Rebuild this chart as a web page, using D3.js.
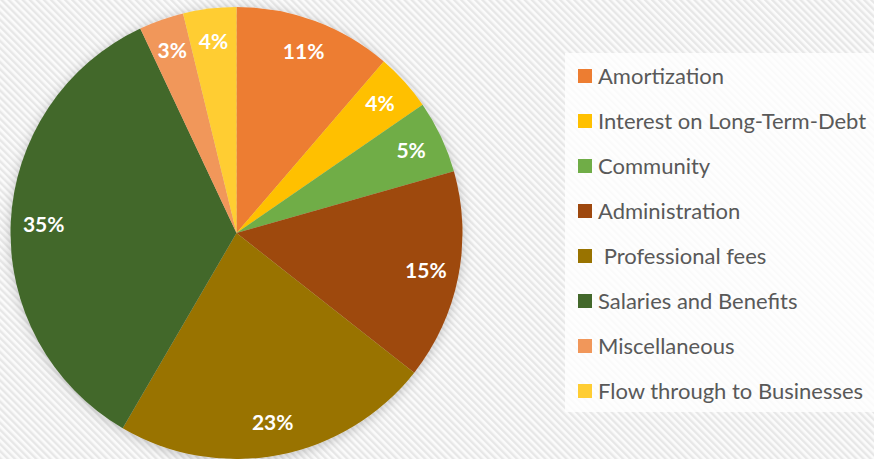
<!DOCTYPE html>
<html>
<head>
<meta charset="utf-8">
<script src="https://cdn.jsdelivr.net/npm/d3@7"></script>
<style>
  html, body { margin: 0; padding: 0; background: #fff; }
  svg { display: block; }
</style>
</head>
<body>
<svg id="chart" width="874" height="459"></svg>
<script>
const categories = ["Amortization", "Interest on Long-Term-Debt", "Community", "Administration",
  " Professional fees", "Salaries and Benefits", "Miscellaneous", "Flow through to Businesses"];
const values = [11.3, 4.1, 5.2, 15.0, 22.8, 34.6, 3.2, 3.8];
const colors = ["#ED7D31", "#FFC000", "#70AD47", "#9E480E", "#997300", "#43682B", "#F1975A", "#FFCD33"];

const svg = d3.select("#chart");
const W = 874, H = 459;
const defs = svg.append("defs");

const pat = defs.append("pattern").attr("id", "stripes").attr("patternUnits", "userSpaceOnUse")
  .attr("width", 5).attr("height", 5).attr("patternTransform", "rotate(-45)");
pat.append("rect").attr("width", 5).attr("height", 5).attr("fill", "#fbfbfb");
pat.append("rect").attr("width", 2.4).attr("height", 5).attr("fill", "#e7e7e7");

const f = defs.append("filter").attr("id", "shadow").attr("x", "-20%").attr("y", "-20%").attr("width", "140%").attr("height", "140%");
f.append("feDropShadow").attr("dx", 0).attr("dy", 2).attr("stdDeviation", 6)
  .attr("flood-color", "#000").attr("flood-opacity", 0.22);

svg.append("rect").attr("width", W).attr("height", H).attr("fill", "url(#stripes)");

// Legend box
svg.append("rect").attr("x", 565).attr("y", 53).attr("width", 309).attr("height", 359)
  .attr("fill", "#ffffff").attr("opacity", 0.8);

const cx = 236.5, cy = 233, R = 226;
const pie = d3.pie().sort(null).value(d => d)(values);
const arc = d3.arc().innerRadius(0).outerRadius(R);
const labelArc = d3.arc().innerRadius(193).outerRadius(193);
const total = d3.sum(values);

const g = svg.append("g").attr("transform", `translate(${cx},${cy})`);
const slices = g.append("g").attr("filter", "url(#shadow)");
slices.selectAll("path").data(pie).join("path")
  .attr("d", arc).attr("fill", (d, i) => colors[i]);

g.selectAll("text.lbl").data(pie).join("text").attr("class", "lbl")
  .attr("transform", d => `translate(${labelArc.centroid(d)})`)
  .attr("text-anchor", "middle").attr("dy", "0.35em")
  .attr("fill", "#fff").attr("font-family", "Lato, sans-serif").attr("font-weight", "bold")
  .attr("font-size", 21)
  .text(d => Math.round(d.data / total * 100) + "%");

// Legend
const y = d3.scaleBand().domain(categories).range([53.5, 413.5]);
const leg = svg.append("g");
const items = leg.selectAll("g").data(categories).join("g")
  .attr("transform", d => `translate(578,${y(d) + y.bandwidth() / 2})`);
items.append("rect").attr("x", 0).attr("y", -7).attr("width", 14).attr("height", 14)
  .attr("fill", (d, i) => colors[i]);
items.append("text").attr("x", 20).attr("dy", "0.35em")
  .attr("fill", "#595959").attr("font-family", "Lato, sans-serif").attr("font-size", 22)
  .attr("xml:space", "preserve").style("white-space", "pre")
  .text(d => d);
</script>
</body>
</html>
